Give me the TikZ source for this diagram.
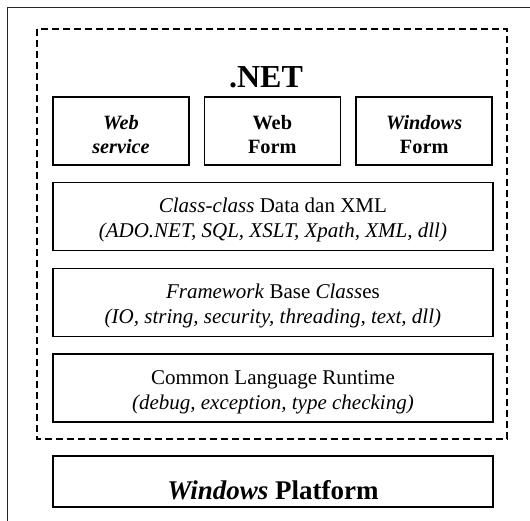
\documentclass[tikz,border=0pt]{standalone}
\usepackage{fontspec}
\setmainfont{Liberation Serif}
\begin{document}
\begin{tikzpicture}[x=1pt,y=-1pt,
  box/.style={draw, line width=1.6pt, align=center, inner sep=0pt},
  toprow/.style={box, minimum width=136pt, minimum height=68pt,
    font=\bfseries\fontsize{20.3}{24}\selectfont},
  layer/.style={box, minimum width=439.7pt, minimum height=68pt,
    font=\fontsize{21}{25}\selectfont},
  frame/.style={line width=1.6pt, black!85},
  dashbox/.style={dash pattern=on 6.7pt off 4.3pt, line width=1.3pt}
]
\useasboundingbox (0,0) rectangle (530,520);
\draw[frame] (7.5,560) -- (7.5,7.5) -- (560,7.5);
\draw[dashbox] (37,29) rectangle (507,439);
\node[font=\bfseries\fontsize{32}{36}\selectfont, anchor=base, inner sep=0pt] (net) at (266,87) {.NET};
\node[toprow] (ws) at (121,131) {\rule{0pt}{20.6pt}\textit{Web}\\\textit{service}};
\node[toprow] (wf) at (272.3,131) {\rule{0pt}{20.6pt}Web\\Form};
\node[toprow] (winf) at (424.2,131) {\rule{0pt}{20.6pt}\textit{Windows}\\Form};
\node[layer] (cls) at (272.9,216.5) {\rule{0pt}{22pt}\textit{Class-class} Data dan XML\\\textit{(ADO.NET, SQL, XSLT, Xpath, XML, dll)}};
\node[layer] (fw) at (272.9,302.5) {\rule{0pt}{22pt}\textit{Framework} Base \textit{Class}es\\\textit{(IO, string, security, threading, text, dll)}};
\node[layer] (clr) at (272.9,388.2) {\rule{0pt}{22pt}Common Language Runtime\\\textit{(debug, exception, type checking)}};
\node[layer, minimum height=51pt, font=\bfseries\fontsize{27}{30}\selectfont] (wp) at (272.9,481.7) {\rule{0pt}{36pt}\textit{Windows} Platform};
\end{tikzpicture}
\end{document}
